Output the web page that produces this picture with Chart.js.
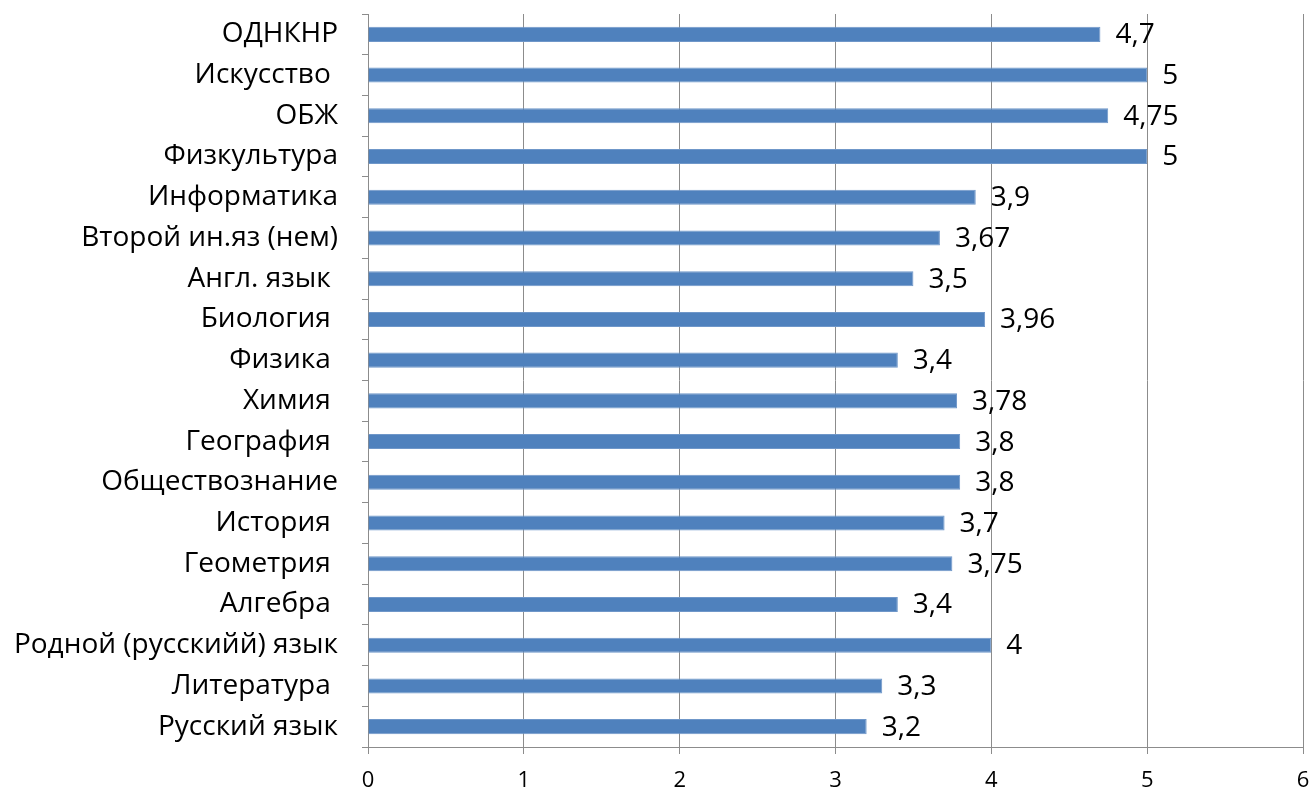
<!DOCTYPE html>
<html lang="ru">
<head>
    <meta charset="UTF-8">
    <title>Средний балл по предметам</title>
    <style>
        html, body {
            margin: 0;
            padding: 0;
            background: #ffffff;
        }
        #wrap {
            width: 1312px;
            height: 794px;
        }
    </style>
</head>
<body>
    <div id="wrap"><canvas id="barChart" width="1312" height="794"></canvas></div>

    <script src="https://cdn.jsdelivr.net/npm/chart.js"></script>
    <script>
        // Subjects, top to bottom as in the picture
        const subjects = ['ОДНКНР', 'Искусство ', 'ОБЖ', 'Физкультура', 'Информатика', 'Второй ин.яз (нем)',
            'Англ. язык ', 'Биология ', 'Физика ', 'Химия ', 'География ', 'Обществознание', 'История ',
            'Геометрия ', 'Алгебра ', 'Родной (русскийй) язык', 'Литература ', 'Русский язык'];
        // Average marks
        const marks = [4.7, 5, 4.75, 5, 3.9, 3.67, 3.5, 3.96, 3.4, 3.78, 3.8, 3.8, 3.7, 3.75, 3.4, 4, 3.3, 3.2];
        // Axis range
        const axisMin = 0;
        const axisMax = 6;

        const fontFamily = '"Open Sans", "Noto Sans", sans-serif';

        // Values written to the right of each bar, with a comma as decimal mark
        const valueLabels = {
            id: 'valueLabels',
            afterDatasetsDraw(chart) {
                const ctx = chart.ctx;
                const meta = chart.getDatasetMeta(0);
                ctx.save();
                ctx.font = '28px ' + fontFamily;
                ctx.fillStyle = '#000000';
                ctx.textAlign = 'left';
                ctx.textBaseline = 'middle';
                meta.data.forEach(function(bar, i) {
                    const text = String(marks[i]).replace('.', ',');
                    ctx.fillText(text, bar.x + 15, bar.y + 1);
                });
                ctx.restore();
            }
        };

        const chart = new Chart(document.getElementById('barChart').getContext('2d'), {
            type: 'bar',
            data: {
                labels: subjects,
                datasets: [{
                    data: marks,
                    backgroundColor: '#4f81bd',
                    borderColor: '#6f97c9',
                    borderWidth: 1,
                    borderSkipped: 'start',
                    barPercentage: 0.37,
                    categoryPercentage: 1
                }]
            },
            options: {
                indexAxis: 'y',
                responsive: false,
                animation: false,
                layout: {
                    padding: { top: 14, right: 9, bottom: 0, left: 0 }
                },
                plugins: {
                    legend: { display: false },
                    tooltip: { enabled: false }
                },
                scales: {
                    x: {
                        min: axisMin,
                        max: axisMax,
                        afterFit: function(scale) {
                            scale.height = 47;
                            scale.paddingLeft = 0;
                            scale.paddingRight = 0;
                        },
                        ticks: {
                            stepSize: 1,
                            color: '#000000',
                            padding: 14,
                            font: { family: fontFamily, size: 22 }
                        },
                        grid: {
                            color: '#8c8c8c',
                            lineWidth: 1,
                            tickLength: 7
                        },
                        border: { color: '#8c8c8c' }
                    },
                    y: {
                        afterFit: function(scale) {
                            scale.width = 368;
                            scale.paddingTop = 0;
                            scale.paddingBottom = 0;
                        },
                        ticks: {
                            color: '#000000',
                            padding: 24,
                            font: { family: fontFamily, size: 28 }
                        },
                        grid: {
                            offset: true,
                            drawOnChartArea: false,
                            color: '#8c8c8c',
                            tickLength: 6
                        },
                        border: { color: '#8c8c8c' }
                    }
                }
            },
            plugins: [valueLabels]
        });
    </script>
</body>
</html>
